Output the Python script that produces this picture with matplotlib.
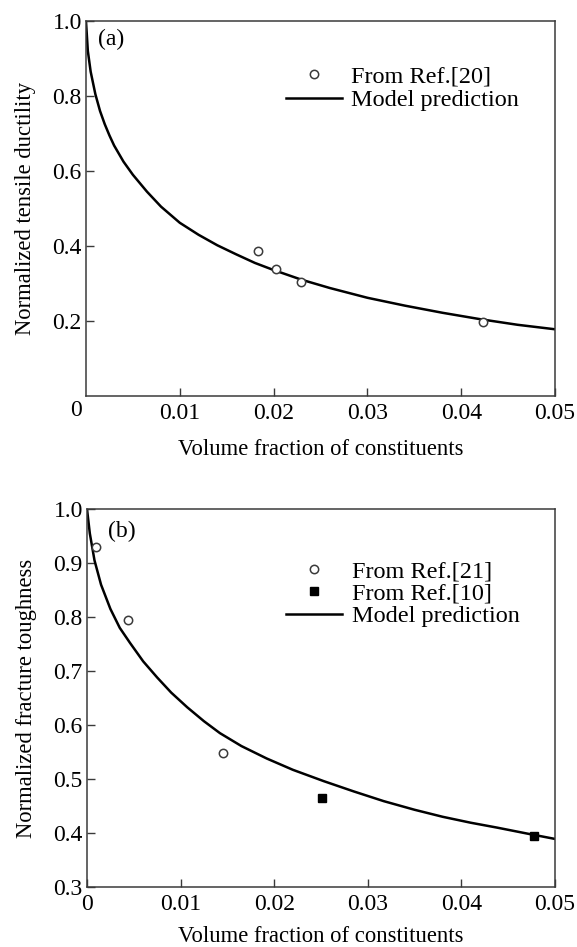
import numpy as np
import matplotlib
matplotlib.use("Agg")
import matplotlib.pyplot as plt

# Donnees

# (a) ductilite
duct_x = [0.0183, 0.0203, 0.0229, 0.0423]
duct_y = [0.388, 0.340, 0.303, 0.197]

model_a_x = [0, 0.0002, 0.0005, 0.001, 0.0015, 0.002, 0.0025, 0.003, 0.004, 0.005,
             0.0065, 0.008, 0.010, 0.012, 0.014, 0.016, 0.018, 0.020, 0.023,
             0.026, 0.030, 0.034, 0.038, 0.042, 0.046, 0.050]
model_a_y = [1.0, 0.92, 0.865, 0.805, 0.76, 0.725, 0.695, 0.668, 0.625, 0.59,
             0.545, 0.505, 0.462, 0.43, 0.402, 0.378, 0.355, 0.336, 0.31,
             0.288, 0.262, 0.241, 0.222, 0.205, 0.19, 0.178]

# (b) tenacite
ref21_x = [0.0010, 0.0044, 0.0145]
ref21_y = [0.929, 0.794, 0.548]
ref10_x = [0.0251, 0.0478]
ref10_y = [0.465, 0.395]

model_b_x = [0, 0.0003, 0.0008, 0.0015, 0.0025, 0.0035, 0.0046, 0.006, 0.0075,
             0.009, 0.0107, 0.0125, 0.0142, 0.0165, 0.0192, 0.022, 0.0253,
             0.0285, 0.0317, 0.035, 0.038, 0.041, 0.0438, 0.047, 0.050]
model_b_y = [1.0, 0.955, 0.905, 0.86, 0.815, 0.78, 0.752, 0.718, 0.688,
             0.66, 0.633, 0.607, 0.585, 0.561, 0.538, 0.517, 0.496,
             0.477, 0.459, 0.443, 0.430, 0.419, 0.410, 0.399, 0.389]

xticks = [0.01, 0.02, 0.03, 0.04, 0.05]
xticks_b = [0, 0.01, 0.02, 0.03, 0.04, 0.05]
yticks_a = [0.2, 0.4, 0.6, 0.8, 1.0]
yticks_b = [0.3, 0.4, 0.5, 0.6, 0.7, 0.8, 0.9, 1.0]

plt.rcParams['font.family'] = ['Liberation Serif', 'DejaVu Serif']

gris = '#3a3a3a'
taille = 17


def style_axes(ax):
    for cote in ['top', 'right', 'bottom', 'left']:
        ax.spines[cote].set_color(gris)
        ax.spines[cote].set_linewidth(1.1)
    ax.tick_params(direction='in', length=6, width=1.0, color=gris,
                   labelsize=taille, top=False, right=False)
    ax.tick_params(axis='x', pad=5)
    ax.tick_params(axis='y', pad=3)


fig = plt.figure(figsize=(5.77, 9.47), dpi=100)

# Panneau (a)
ax1 = fig.add_axes([0.149, 0.5818, 0.813, 0.396])
ax1.plot(model_a_x, model_a_y, color='black', lw=1.8, label='Model prediction')
ax1.plot(duct_x, duct_y, 'o', ms=6, mfc='white', mec=gris, mew=1.1,
         label='From Ref.[20]', ls='none')
ax1.set_xlim(0, 0.05)
ax1.set_ylim(0, 1.0)
ax1.set_xticks(xticks)
ax1.set_xticklabels(['0.01', '0.02', '0.03', '0.04', '0.05'])
ax1.set_yticks(yticks_a)
ax1.set_yticklabels(['0.2', '0.4', '0.6', '0.8', '1.0'])
style_axes(ax1)
ax1.annotate('0', xy=(0, 0), xycoords='axes fraction', xytext=(-3, -3),
             textcoords='offset points', ha='right', va='top', fontsize=taille)
ax1.set_xlabel('Volume fraction of constituents', fontsize=16.3, labelpad=11)
ax1.set_ylabel('Normalized tensile ductility', fontsize=16.3, labelpad=12)
ax1.text(0.025, 0.95, '(a)', transform=ax1.transAxes, fontsize=17,
         va='center', ha='left')
h, l = ax1.get_legend_handles_labels()
ax1.legend([h[1], h[0]], [l[1], l[0]], loc='upper left',
           bbox_to_anchor=(0.40, 0.915), frameon=False, fontsize=17.5,
           handlelength=2.3, handletextpad=0.4, borderpad=0, labelspacing=0.08)

# Panneau (b)
ax2 = fig.add_axes([0.1508, 0.0634, 0.811, 0.399])
ax2.plot(model_b_x, model_b_y, color='black', lw=1.8, label='Model prediction')
ax2.plot(ref21_x, ref21_y, 'o', ms=6, mfc='white', mec=gris, mew=1.1,
         label='From Ref.[21]', ls='none')
ax2.plot(ref10_x, ref10_y, 's', ms=6, mfc='black', mec='black',
         label='From Ref.[10]', ls='none')
ax2.set_xlim(0, 0.05)
ax2.set_ylim(0.3, 1.0)
ax2.set_xticks(xticks_b)
ax2.set_xticklabels(['0', '0.01', '0.02', '0.03', '0.04', '0.05'])
ax2.set_yticks(yticks_b)
ax2.set_yticklabels(['0.3', '0.4', '0.5', '0.6', '0.7', '0.8', '0.9', '1.0'])
style_axes(ax2)
ax2.set_xlabel('Volume fraction of constituents', fontsize=16.3, labelpad=8)
ax2.set_ylabel('Normalized fracture toughness', fontsize=16.3, labelpad=12)
ax2.text(0.045, 0.94, '(b)', transform=ax2.transAxes, fontsize=17,
         va='center', ha='left')
h, l = ax2.get_legend_handles_labels()
ax2.legend([h[1], h[2], h[0]], [l[1], l[2], l[0]], loc='upper left',
           bbox_to_anchor=(0.40, 0.897), frameon=False, fontsize=17.5,
           handlelength=2.3, handletextpad=0.4, borderpad=0, labelspacing=0.02)

fig.savefig('out.png', dpi=100)
